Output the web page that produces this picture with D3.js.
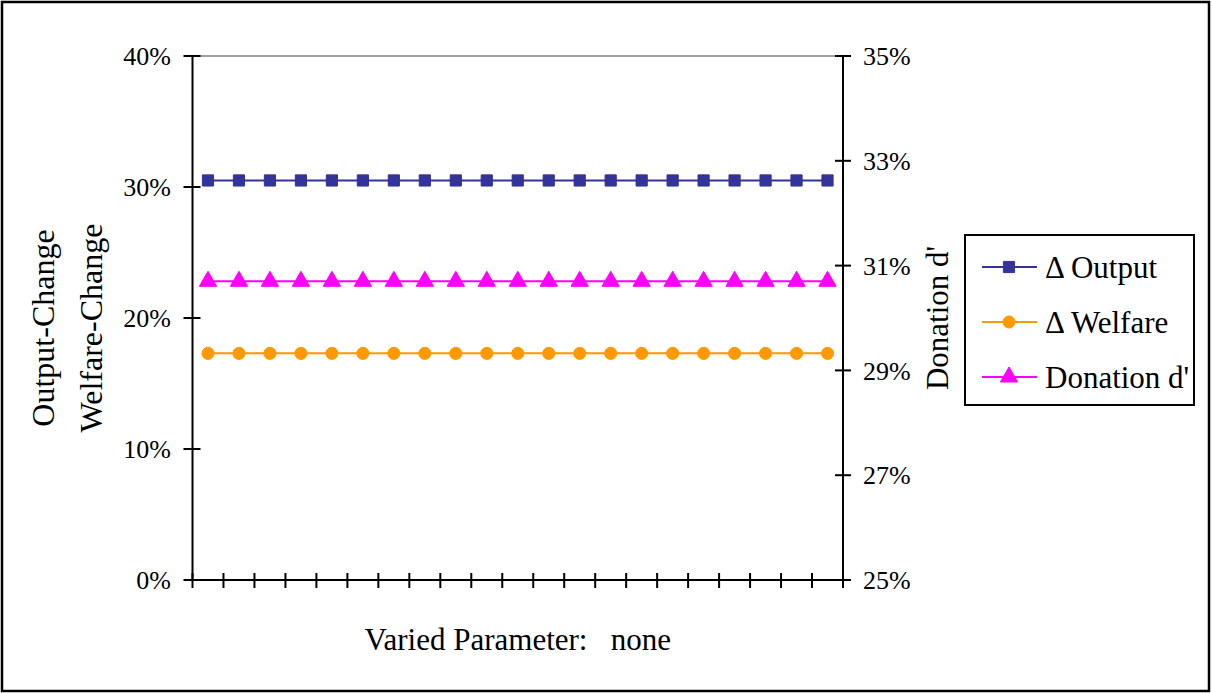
<!DOCTYPE html>
<html><head><meta charset="utf-8">
<script src="https://cdn.jsdelivr.net/npm/d3@7"></script>
<style>
body{margin:0;background:#fff;}
svg text{font-family:"Times New Roman","Liberation Serif",serif;fill:#000;}
</style></head>
<body><svg id="c" width="1212" height="693"></svg>
<script>
const categories = d3.range(1, 22).map(String);
const outputChange = [30.5,30.5,30.5,30.5,30.5,30.5,30.5,30.5,30.5,30.5,30.5,30.5,30.5,30.5,30.5,30.5,30.5,30.5,30.5,30.5,30.5];
const welfareChange = [17.3,17.3,17.3,17.3,17.3,17.3,17.3,17.3,17.3,17.3,17.3,17.3,17.3,17.3,17.3,17.3,17.3,17.3,17.3,17.3,17.3];
const donation = [30.7,30.7,30.7,30.7,30.7,30.7,30.7,30.7,30.7,30.7,30.7,30.7,30.7,30.7,30.7,30.7,30.7,30.7,30.7,30.7,30.7];
const leftTicks = [0,10,20,30,40];
const rightTicks = [25,27,29,31,33,35];
const seriesNames = ["\u0394 Output","\u0394 Welfare","Donation d'"];

const svg = d3.select("#c");
const L = 192.5, R = 843, T = 56, B = 580;

svg.append("rect").attr("x",2).attr("y",2).attr("width",1207).attr("height",689)
  .attr("fill","#fff").attr("stroke","#000").attr("stroke-width",2.5);

const x = d3.scaleBand().domain(categories).range([L,R]);
const yL = d3.scaleLinear().domain([0,40]).range([B,T]);
const yR = d3.scaleLinear().domain([25,35]).range([B,T]);

// top border line of plot area
svg.append("line").attr("x1",L).attr("x2",R).attr("y1",T).attr("y2",T)
  .attr("stroke","#808080").attr("stroke-width",1.5);

// left axis
const gl = svg.append("g");
gl.append("line").attr("x1",L).attr("x2",L).attr("y1",T).attr("y2",B).attr("stroke","#000").attr("stroke-width",2);
gl.selectAll("line.t").data(leftTicks).enter().append("line").attr("class","t")
  .attr("x1",L-9).attr("x2",L+8).attr("y1",d=>yL(d)).attr("y2",d=>yL(d)).attr("stroke","#000").attr("stroke-width",2);
gl.selectAll("text").data(leftTicks).enter().append("text")
  .attr("x",171).attr("y",d=>yL(d)).attr("dy","0.35em").attr("text-anchor","end")
  .style("font-size","26px").text(d=>d+"%");

// right axis
const gr = svg.append("g");
gr.append("line").attr("x1",R).attr("x2",R).attr("y1",T).attr("y2",B).attr("stroke","#000").attr("stroke-width",2);
gr.selectAll("line.t").data(rightTicks).enter().append("line").attr("class","t")
  .attr("x1",R-8).attr("x2",R+8).attr("y1",d=>yR(d)).attr("y2",d=>yR(d)).attr("stroke","#000").attr("stroke-width",2);
gr.selectAll("text").data(rightTicks).enter().append("text")
  .attr("x",863).attr("y",d=>yR(d)).attr("dy","0.35em").attr("text-anchor","start")
  .style("font-size","26px").text(d=>d+"%");

// x axis
const gx = svg.append("g");
gx.append("line").attr("x1",L-8).attr("x2",R).attr("y1",B).attr("y2",B).attr("stroke","#000").attr("stroke-width",2);
const xt = categories.map(c=>x(c)).concat([R]);
gx.selectAll("line.t").data(xt).enter().append("line").attr("class","t")
  .attr("x1",d=>d).attr("x2",d=>d).attr("y1",B-7).attr("y2",B+8).attr("stroke","#000").attr("stroke-width",2);

const cx = d=>x(d)+x.bandwidth()/2;

function drawSeries(vals, scale, color, shape){
  const pts = categories.map((c,i)=>[cx(c), scale(vals[i])]);
  svg.append("path").attr("d",d3.line()(pts)).attr("fill","none").attr("stroke",color).attr("stroke-width",2);
  svg.append("g").selectAll("path").data(pts).enter().append("path")
    .attr("transform",d=>`translate(${d[0]},${d[1]})`)
    .attr("d",shape).attr("fill",color).attr("stroke",color).attr("stroke-width",1);
}
const sq = d3.symbol(d3.symbolSquare, 125)();
const ci = d3.symbol(d3.symbolCircle, 115)();
const tr = d3.symbol(d3.symbolTriangle, 130)();
drawSeries(outputChange, yL, "#333399", sq);
drawSeries(welfareChange, yL, "#FF9900", ci);
drawSeries(donation, yR, "#FF00FF", tr);

// axis titles
svg.append("text").attr("transform","translate(43,328) rotate(-90)").attr("text-anchor","middle")
  .attr("dy","0.35em").style("font-size","32px").text("Output-Change");
svg.append("text").attr("transform","translate(91,328) rotate(-90)").attr("text-anchor","middle")
  .attr("dy","0.35em").style("font-size","32px").text("Welfare-Change");
svg.append("text").attr("transform","translate(937,318) rotate(-90)").attr("text-anchor","middle")
  .attr("dy","0.35em").style("font-size","31px").text("Donation d'");
svg.append("text").attr("x",(L+R)/2).attr("y",650).attr("text-anchor","middle")
  .style("font-size","31px").style("white-space","pre").attr("xml:space","preserve").text("Varied Parameter:   none");

// legend
const lg = svg.append("g");
lg.append("rect").attr("x",965).attr("y",235).attr("width",229).attr("height",170)
  .attr("fill","#fff").attr("stroke","#000").attr("stroke-width",2);
const lcolors = ["#333399","#FF9900","#FF00FF"];
const lshapes = [sq,ci,tr];
const ly = [267,322,377];
seriesNames.forEach((n,i)=>{
  lg.append("line").attr("x1",982).attr("x2",1037).attr("y1",ly[i]).attr("y2",ly[i]).attr("stroke",lcolors[i]).attr("stroke-width",2);
  lg.append("path").attr("transform",`translate(1009,${ly[i]})`).attr("d",lshapes[i]).attr("fill",lcolors[i]).attr("stroke",lcolors[i]);
  lg.append("text").attr("x",1045).attr("y",ly[i]).attr("dy","0.35em").style("font-size","31px").text(n);
});
</script></body></html>
